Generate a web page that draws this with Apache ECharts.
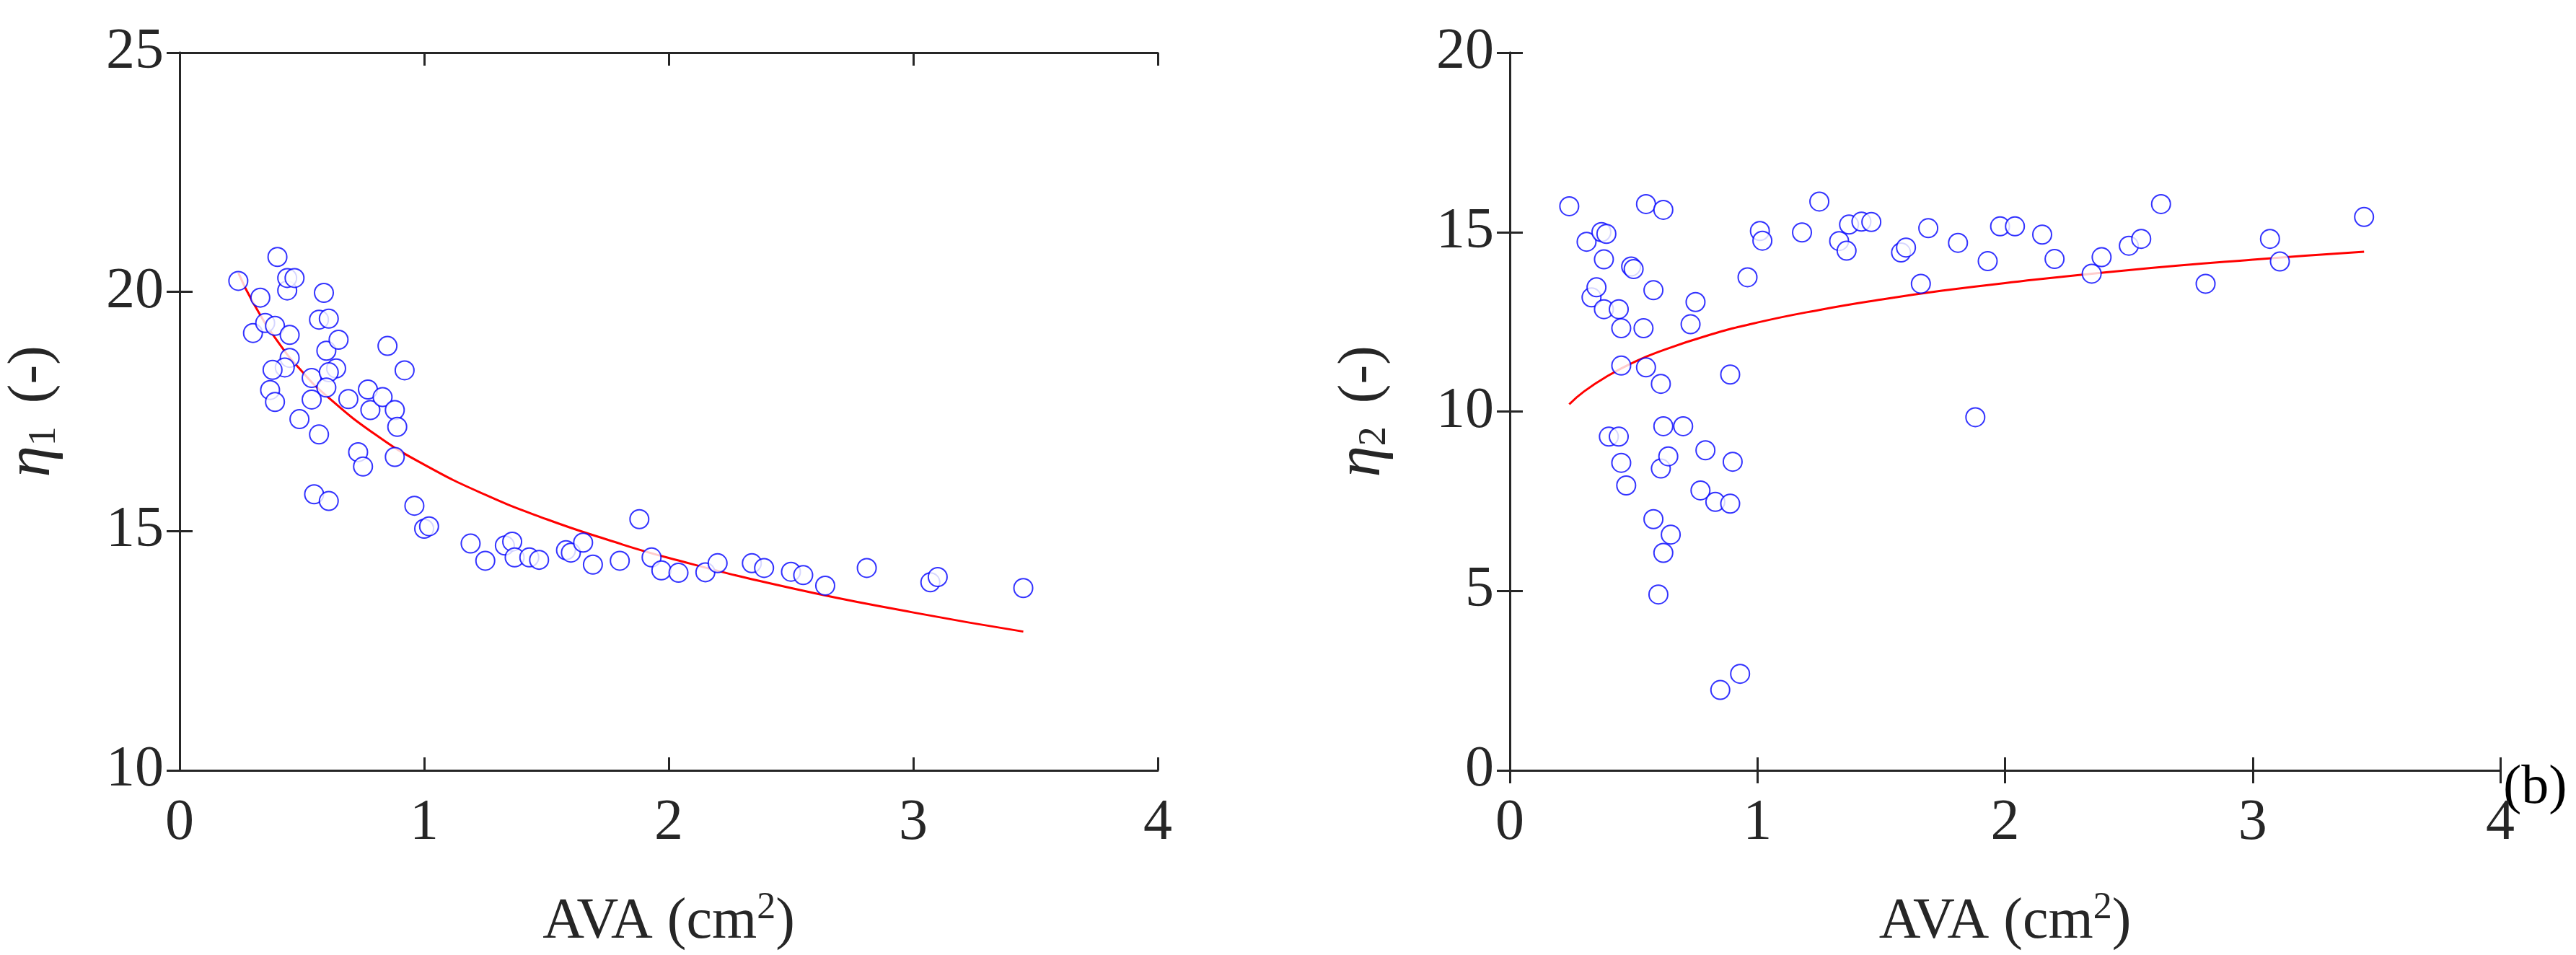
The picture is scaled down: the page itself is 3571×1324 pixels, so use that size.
<!DOCTYPE html>
<html>
<head>
<meta charset="UTF-8">
<script src="https://cdn.jsdelivr.net/npm/echarts@6/dist/echarts.min.js"></script>
<style>
  html, body { margin: 0; background: #fff; }
  #main { width: 3571px; height: 1324px; }
</style>
</head>
<body>
<div id="main"></div>
<script>
// left panel: eta1 vs AVA
var ava1 = [0.24,0.33,0.30,0.35,0.39,0.40,0.44,0.44,0.47,0.45,0.45,0.43,0.38,0.37,0.39,0.49,0.54,0.54,0.57,0.59,0.57,0.61,0.60,0.65,0.64,0.61,0.60,0.55,0.61,0.69,0.77,0.78,0.83,0.85,0.88,0.89,0.92,0.88,0.73,0.75,0.96,1.00,1.02,1.19,1.25,1.33,1.36,1.37,1.43,1.47,1.58,1.60,1.65,1.69,1.80,1.88,1.93,1.97,2.04,2.15,2.20,2.34,2.39,2.50,2.55,2.64,2.81,3.07,3.10,3.45];
var eta1 = [20.23,19.88,19.14,19.35,19.29,20.73,20.03,20.29,20.29,19.1,18.62,18.42,18.37,17.95,17.7,17.34,18.2,17.75,17.02,19.98,19.42,19.44,18.77,19.0,18.4,18.32,18.0,15.77,15.63,17.76,17.96,17.53,17.8,18.87,17.53,17.18,18.36,16.55,16.65,16.35,15.53,15.05,15.1,14.74,14.38,14.7,14.78,14.45,14.45,14.4,14.6,14.55,14.76,14.3,14.38,15.25,14.45,14.18,14.13,14.14,14.33,14.33,14.23,14.15,14.08,13.86,14.23,13.93,14.04,13.81];
// right panel: eta2 vs AVA
var ava2 = [0.24,0.31,0.33,0.35,0.37,0.39,0.38,0.38,0.44,0.45,0.45,0.40,0.44,0.45,0.47,0.49,0.50,0.54,0.55,0.55,0.58,0.58,0.61,0.62,0.62,0.61,0.64,0.62,0.65,0.60,0.70,0.73,0.75,0.79,0.77,0.83,0.89,0.90,0.89,0.85,0.93,0.96,1.01,1.02,1.18,1.25,1.33,1.36,1.37,1.42,1.46,1.58,1.60,1.66,1.69,1.81,1.88,1.93,1.98,2.04,2.15,2.20,2.35,2.39,2.50,2.55,2.63,2.81,3.07,3.11,3.45];
var eta2 = [15.72,14.73,13.18,13.46,15.0,14.95,14.24,12.85,12.85,12.32,11.28,9.30,9.30,8.57,7.94,14.04,13.97,12.32,11.23,15.78,13.38,7.0,10.77,15.62,9.59,8.41,8.75,6.06,6.57,4.9,9.59,12.43,13.05,8.92,7.8,7.48,7.43,8.6,11.03,2.24,2.69,13.74,15.03,14.76,14.99,15.85,14.75,14.48,15.21,15.29,15.28,14.43,14.57,13.56,15.11,14.7,9.84,14.19,15.16,15.16,14.93,14.25,13.84,14.3,14.62,14.81,15.78,13.56,14.81,14.18,15.42];
// fitted curves
var fitX = [0.24,0.3,0.4,0.5,0.6,0.8,1,1.25,1.5,1.75,2,2.5,3,3.45];
var fit1 = [20.4,19.78,18.97,18.34,17.83,17.02,16.39,15.76,15.25,14.82,14.44,13.81,13.3,12.9];
var fit2 = [10.2,10.56,11.01,11.37,11.66,12.12,12.48,12.83,13.12,13.37,13.58,13.94,14.23,14.45];

var font = "Liberation Serif";
var ink = "#262626";
var grids = [
  { left: 225, top: 73, width: 1380, height: 1025 },
  { left: 2093, top: 73, width: 1373, height: 1025 }
];
function pairs(xs, ys) { return xs.map(function (x, i) { return [x, ys[i]]; }); }
var lineSt = { lineStyle: { color: ink, width: 3 } };
var tickSt = { inside: true, length: 18, lineStyle: { color: ink, width: 3 } };

var xAxes = [], yAxes = [];
[[10, 25, 5, "1"], [0, 20, 5, "2"]].forEach(function (r, g) {
  xAxes.push({
    gridIndex: g, type: "value", min: 0, max: 4, interval: 1,
    name: "AVA (cm{s|2})", nameLocation: "middle", nameGap: 165,
    nameTextStyle: { fontFamily: font, fontSize: 80, color: ink,
      rich: { s: { fontFamily: font, fontSize: 52, verticalAlign: "top", padding: [0, 0, 40, 0], color: ink } } },
    axisLine: lineSt, axisTick: tickSt,
    axisLabel: { fontFamily: font, fontSize: 80, color: ink, margin: 34 },
    splitLine: { show: false }
  });
  xAxes.push({
    gridIndex: g, type: "value", min: 0, max: 4, interval: 1, position: "top",
    axisLine: lineSt, axisTick: tickSt,
    axisLabel: { show: false }, splitLine: { show: false }
  });
  yAxes.push({
    gridIndex: g, type: "value", min: r[0], max: r[1], interval: r[2],
    name: "{e|η}{b|" + r[3] + "} (-)", nameLocation: "middle", nameGap: 160,
    nameTextStyle: { fontFamily: font, fontSize: 80, color: ink,
      rich: { e: { fontFamily: font, fontStyle: "italic", fontSize: 88, color: ink },
              b: { fontFamily: font, fontSize: 54, verticalAlign: "bottom", padding: [30, 12, 0, 0], color: ink } } },
    axisLine: lineSt, axisTick: tickSt,
    axisLabel: { fontFamily: font, fontSize: 80, color: ink, margin: 22 },
    splitLine: { show: false }
  });
  yAxes.push({
    gridIndex: g, type: "value", min: r[0], max: r[1], interval: r[2], position: "right",
    axisLine: lineSt, axisTick: tickSt,
    axisLabel: { show: false }, splitLine: { show: false }
  });
});

function scatter(g, data) {
  return { type: "scatter", xAxisIndex: g * 2, yAxisIndex: g * 2, data: data,
    symbol: "emptyCircle", symbolSize: 26,
    itemStyle: { color: "#0000ff", borderColor: "#0000ff", borderWidth: 5 }, z: 3 };
}
function fit(g, data) {
  return { type: "line", xAxisIndex: g * 2, yAxisIndex: g * 2, data: data,
    smooth: true, showSymbol: false, lineStyle: { color: "#ff0000", width: 3 }, z: 2 };
}

var chart = echarts.init(document.getElementById("main"));
chart.setOption({
  backgroundColor: "#fff",
  animation: false,
  grid: grids,
  xAxis: xAxes,
  yAxis: yAxes,
  series: [
    fit(0, pairs(fitX, fit1)), scatter(0, pairs(ava1, eta1)),
    fit(1, pairs(fitX, fit2)), scatter(1, pairs(ava2, eta2))
  ],
  graphic: [{ type: "text", left: 3470, top: 1055,
    style: { text: "(b)", fontFamily: font, fontSize: 76, fill: "#000" } }]
});
</script>
</body>
</html>
